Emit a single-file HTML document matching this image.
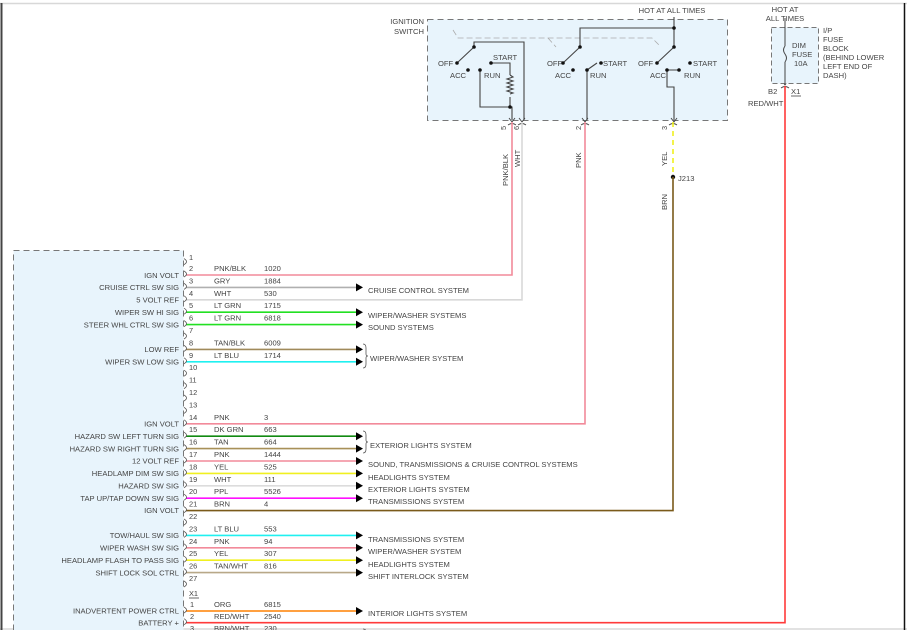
<!DOCTYPE html>
<html><head><meta charset="utf-8"><style>
html,body{margin:0;padding:0;background:#fff;}
svg{display:block;}
text{font-family:"Liberation Sans",sans-serif;font-size:7.6px;fill:#444;}
.n{font-size:7.4px;}
.w{fill:none;stroke-width:1.6;}
</style></head><body>
<svg width="907" height="630" viewBox="0 0 907 630" xmlns="http://www.w3.org/2000/svg">
<!-- frame -->
<line x1="0" y1="3.5" x2="907" y2="3.5" stroke="#d8d8d8" stroke-width="1.5"/>
<line x1="0" y1="629" x2="907" y2="629" stroke="#d8d8d8" stroke-width="1.5"/>
<line x1="1.5" y1="3" x2="1.5" y2="630" stroke="#444" stroke-width="2"/>
<line x1="904.5" y1="3" x2="904.5" y2="630" stroke="#111" stroke-width="1.5"/>

<!-- left connector box -->
<rect x="13.5" y="250.5" width="170" height="400" fill="#e8f4fc" stroke="#777" stroke-dasharray="6,4"/>

<!-- ignition switch box -->
<rect x="427.5" y="19.5" width="300" height="101" fill="#e8f4fc" stroke="#777" stroke-dasharray="6,4"/>
<text x="424" y="24" text-anchor="end">IGNITION</text>
<text x="424" y="34" text-anchor="end">SWITCH</text>
<text x="672" y="13" text-anchor="middle">HOT AT ALL TIMES</text>
<!-- gang dashed line -->
<path d="M453,30 L458,38 L652,38 L660,46 M548,38 L556,47" fill="none" stroke="#aaa" stroke-width="0.8" stroke-dasharray="6,3"/>
<g stroke="#444" stroke-width="1.1" fill="none">
<path d="M674,17 L674,47 M674,28 L580,28 L580,47"/>
<!-- switch 1 -->
<path d="M474,47 L457,63 M474,47 L474,42 L524,42 L524,120"/>
<path d="M491,63 L510,63 L510,75 M510,97 L510,107 L480,107 L480,70 M510,107 L512,107 L512,120"/>
<path d="M510,75 l3,2 l-6,2 l6,2 l-6,2 l6,2 l-6,2 l6,2 l-6,2 l6,2 l-3,1"/>
<!-- switch 2 -->
<path d="M580,47 L563,63 M587,70 L597,63 M587,70 L587,120"/>
<!-- switch 3 -->
<path d="M674,47 L657,63 M667,70 L679,70 M667,70 L667,87 L674,87 L674,120"/>
</g>
<g fill="#111">
<circle cx="674" cy="28" r="1.8"/><circle cx="674" cy="47" r="1.8"/><circle cx="580" cy="47" r="1.8"/><circle cx="474" cy="47" r="1.8"/>
<circle cx="457" cy="63" r="1.8"/><circle cx="468" cy="70" r="1.8"/><circle cx="480" cy="70" r="1.8"/><circle cx="491" cy="63" r="1.8"/><circle cx="510" cy="107" r="1.8"/>
<circle cx="563" cy="63" r="1.8"/><circle cx="573" cy="70" r="1.8"/><circle cx="587" cy="70" r="1.8"/><circle cx="601" cy="63" r="1.8"/>
<circle cx="657" cy="63" r="1.8"/><circle cx="667" cy="70" r="1.8"/><circle cx="679" cy="70" r="1.8"/><circle cx="690" cy="63" r="1.8"/>
<circle cx="673" cy="177" r="2.2"/><circle cx="785" cy="46" r="1.6"/><circle cx="785" cy="62" r="1.6"/>
</g>
<text x="438" y="66">OFF</text><text x="450" y="78">ACC</text><text x="484" y="78">RUN</text><text x="493" y="60">START</text>
<text x="547" y="66">OFF</text><text x="555" y="78">ACC</text><text x="590" y="78">RUN</text><text x="603" y="66">START</text>
<text x="638" y="66">OFF</text><text x="650" y="78">ACC</text><text x="684" y="78">RUN</text><text x="693" y="66">START</text>
<!-- connectors at switch bottom -->
<g stroke="#444" stroke-width="0.9" fill="none">
<path d="M509,118 l3,4 l3,-4 M519,118 l3,4 l3,-4 M582,118 l3,4 l3,-4 M671,118 l3,4 l3,-4 M782,81 l3,4 l3,-4"/>
<path d="M508,125 q4,-3 8,0 M518,125 q4,-3 8,0 M581,125 q4,-3 8,0 M669,125 q4,-3 8,0 M781,88 q4,-3 8,0"/>
</g>
<text class="n" transform="translate(506,130) rotate(-90)">5</text>
<text class="n" transform="translate(519,130) rotate(-90)">6</text>
<text class="n" transform="translate(581,130) rotate(-90)">2</text>
<text class="n" transform="translate(667,130) rotate(-90)">3</text>
<text transform="translate(508,186) rotate(-90)">PNK/BLK</text>
<text transform="translate(520,167) rotate(-90)">WHT</text>
<text transform="translate(581,168) rotate(-90)">PNK</text>
<text transform="translate(667,166) rotate(-90)">YEL</text>
<text transform="translate(667,210) rotate(-90)">BRN</text>
<text x="678" y="181">J213</text>

<!-- fuse block -->
<text x="785" y="12" text-anchor="middle">HOT AT</text>
<text x="785" y="21" text-anchor="middle">ALL TIMES</text>
<rect x="771.5" y="27.5" width="47" height="56" fill="#e8f4fc" stroke="#777" stroke-dasharray="5,3"/>
<path d="M785,18 L785,46 M785,62 L785,84 M785,46 q-3,4 0,8 q3,4 0,8" fill="none" stroke="#444" stroke-width="1"/>
<text x="792" y="48">DIM</text><text x="792" y="57">FUSE</text><text x="794" y="66">10A</text>
<text x="823" y="33">I/P</text><text x="823" y="42">FUSE</text><text x="823" y="51">BLOCK</text>
<text x="823" y="60">(BEHIND LOWER</text><text x="823" y="69">LEFT END OF</text><text x="823" y="78">DASH)</text>
<text x="768" y="94">B2</text><text x="791" y="94">X1</text>
<line x1="791" y1="96" x2="801" y2="96" stroke="#444" stroke-width="0.8"/>
<text x="748" y="106">RED/WHT</text>

<!-- vertical wire runs -->
<path class="w" stroke="#f28a9a" d="M512,122 L512,275 L186,275"/>
<path class="w" stroke="#d8d8d8" d="M522,122 L522,299.8 L186,299.8"/>
<path class="w" stroke="#f28a9a" d="M585,122 L585,423.8 L186,423.8"/>
<path class="w" stroke="#f0f020" stroke-dasharray="5,4" d="M673,122 L673,174"/>
<path class="w" stroke="#7a5a1a" d="M673,177 L673,510.6 L186,510.6"/>
<path class="w" stroke="#ff3a3a" d="M785,86 L785,622.7 L186,622.7"/>

<!-- arrow wires -->
<g class="w" fill="none">
<path stroke="#b0b0b0" d="M186,287.4 H356"/>
<path stroke="#22e022" d="M186,312.2 H356 M186,324.6 H356"/>
<path stroke="#a08a5a" d="M186,349.4 H356"/>
<path stroke="#20f0f0" d="M186,361.8 H356 M186,535.4 H356"/>
<path stroke="#128a12" d="M186,436.2 H356"/>
<path stroke="#a89058" d="M186,448.6 H356"/>
<path stroke="#f28a9a" d="M186,461 H356 M186,547.8 H356"/>
<path stroke="#f0f020" d="M186,473.4 H356 M186,560.2 H356"/>
<path stroke="#dcdcdc" d="M186,485.8 H356"/>
<path stroke="#ff10ff" d="M186,498.2 H356"/>
<path stroke="#b8a888" d="M186,572.6 H356"/>
<path stroke="#ff8000" d="M186,611 H356"/>
<path stroke="#c0a0a0" d="M186,634 H356"/>
</g>
<g fill="#000">
<path d="M356,283.4 L363,287.4 L356,291.4Z M356,308.2 L363,312.2 L356,316.2Z M356,320.6 L363,324.6 L356,328.6Z M356,345.4 L363,349.4 L356,353.4Z M356,357.8 L363,361.8 L356,365.8Z"/>
<path d="M356,432.2 L363,436.2 L356,440.2Z M356,444.6 L363,448.6 L356,452.6Z M356,457 L363,461 L356,465Z M356,469.4 L363,473.4 L356,477.4Z M356,481.8 L363,485.8 L356,489.8Z M356,494.2 L363,498.2 L356,502.2Z"/>
<path d="M356,531.4 L363,535.4 L356,539.4Z M356,543.8 L363,547.8 L356,551.8Z M356,556.2 L363,560.2 L356,564.2Z M356,568.6 L363,572.6 L356,576.6Z M356,607 L363,611 L356,615Z"/>
</g>
<!-- braces -->
<path d="M363,344 q3,0 3,4 l0,6 q0,2 2,2 q-2,0 -2,2 l0,6 q0,4 -3,4" fill="none" stroke="#555" stroke-width="0.8"/>
<path d="M363,431 q3,0 3,4 l0,5 q0,2 2,2 q-2,0 -2,2 l0,5 q0,4 -3,4" fill="none" stroke="#555" stroke-width="0.8"/>
<path d="M363,629 q3,0 3,3" fill="none" stroke="#555" stroke-width="0.8"/>

<text x="368" y="293">CRUISE CONTROL SYSTEM</text>
<text x="368" y="318">WIPER/WASHER SYSTEMS</text>
<text x="368" y="330">SOUND SYSTEMS</text>
<text x="370" y="361">WIPER/WASHER SYSTEM</text>
<text x="370" y="448">EXTERIOR LIGHTS SYSTEM</text>
<text x="368" y="467">SOUND, TRANSMISSIONS &amp; CRUISE CONTROL SYSTEMS</text>
<text x="368" y="480">HEADLIGHTS SYSTEM</text>
<text x="368" y="492">EXTERIOR LIGHTS SYSTEM</text>
<text x="368" y="504">TRANSMISSIONS SYSTEM</text>
<text x="368" y="542">TRANSMISSIONS SYSTEM</text>
<text x="368" y="554">WIPER/WASHER SYSTEM</text>
<text x="368" y="567">HEADLIGHTS SYSTEM</text>
<text x="368" y="579">SHIFT INTERLOCK SYSTEM</text>
<text x="368" y="616">INTERIOR LIGHTS SYSTEM</text>

<!-- pin connectors -->
<g stroke="#555" stroke-width="0.8" fill="none">
<path d="M184,258.6 q5,3 0,6 M184,271 q5,3 0,6 M184,283.4 q5,3 0,6 M184,295.8 q5,3 0,6 M184,308.2 q5,3 0,6 M184,320.6 q5,3 0,6 M184,333 q5,3 0,6 M184,345.4 q5,3 0,6 M184,357.8 q5,3 0,6 M184,370.2 q5,3 0,6 M184,382.6 q5,3 0,6 M184,395 q5,3 0,6 M184,407.4 q5,3 0,6"/>
<path d="M184,419.8 q5,3 0,6 M184,432.2 q5,3 0,6 M184,444.6 q5,3 0,6 M184,457 q5,3 0,6 M184,469.4 q5,3 0,6 M184,481.8 q5,3 0,6 M184,494.2 q5,3 0,6 M184,506.6 q5,3 0,6 M184,519 q5,3 0,6 M184,531.4 q5,3 0,6 M184,543.8 q5,3 0,6 M184,556.2 q5,3 0,6 M184,568.6 q5,3 0,6 M184,581 q5,3 0,6 M184,607 q5,3 0,6 M184,618.7 q5,3 0,6"/>
</g>

<!-- pin numbers -->
<g class="n">
<text class="n" x="189" y="260">1</text><text class="n" x="189" y="271">2</text><text class="n" x="189" y="283.4">3</text><text class="n" x="189" y="295.8">4</text>
<text class="n" x="189" y="308.2">5</text><text class="n" x="189" y="320.6">6</text><text class="n" x="189" y="333">7</text><text class="n" x="189" y="345.4">8</text>
<text class="n" x="189" y="357.8">9</text><text class="n" x="189" y="370.2">10</text><text class="n" x="189" y="382.6">11</text><text class="n" x="189" y="395">12</text>
<text class="n" x="189" y="407.4">13</text><text class="n" x="189" y="419.8">14</text><text class="n" x="189" y="432.2">15</text><text class="n" x="189" y="444.6">16</text>
<text class="n" x="189" y="457">17</text><text class="n" x="189" y="469.4">18</text><text class="n" x="189" y="481.8">19</text><text class="n" x="189" y="494.2">20</text>
<text class="n" x="189" y="506.6">21</text><text class="n" x="189" y="519">22</text><text class="n" x="189" y="531.4">23</text><text class="n" x="189" y="543.8">24</text>
<text class="n" x="189" y="556.2">25</text><text class="n" x="189" y="568.6">26</text><text class="n" x="189" y="581">27</text>
<text class="n" x="189" y="596">X1</text><text class="n" x="190" y="607">1</text><text class="n" x="190" y="619">2</text><text class="n" x="190" y="631">3</text>
</g>
<line x1="189" y1="598" x2="199" y2="598" stroke="#444" stroke-width="0.8"/>

<!-- wire color / circuit numbers -->
<text x="214" y="271">PNK/BLK</text><text x="264" y="271">1020</text>
<text x="214" y="283.4">GRY</text><text x="264" y="283.4">1884</text>
<text x="214" y="295.8">WHT</text><text x="264" y="295.8">530</text>
<text x="214" y="308.2">LT GRN</text><text x="264" y="308.2">1715</text>
<text x="214" y="320.6">LT GRN</text><text x="264" y="320.6">6818</text>
<text x="214" y="345.4">TAN/BLK</text><text x="264" y="345.4">6009</text>
<text x="214" y="357.8">LT BLU</text><text x="264" y="357.8">1714</text>
<text x="214" y="419.8">PNK</text><text x="264" y="419.8">3</text>
<text x="214" y="432.2">DK GRN</text><text x="264" y="432.2">663</text>
<text x="214" y="444.6">TAN</text><text x="264" y="444.6">664</text>
<text x="214" y="457">PNK</text><text x="264" y="457">1444</text>
<text x="214" y="469.4">YEL</text><text x="264" y="469.4">525</text>
<text x="214" y="481.8">WHT</text><text x="264" y="481.8">111</text>
<text x="214" y="494.2">PPL</text><text x="264" y="494.2">5526</text>
<text x="214" y="506.6">BRN</text><text x="264" y="506.6">4</text>
<text x="214" y="531.4">LT BLU</text><text x="264" y="531.4">553</text>
<text x="214" y="543.8">PNK</text><text x="264" y="543.8">94</text>
<text x="214" y="556.2">YEL</text><text x="264" y="556.2">307</text>
<text x="214" y="568.6">TAN/WHT</text><text x="264" y="568.6">816</text>
<text x="214" y="607">ORG</text><text x="264" y="607">6815</text>
<text x="214" y="619">RED/WHT</text><text x="264" y="619">2540</text>
<text x="214" y="631">BRN/WHT</text><text x="264" y="631">230</text>

<!-- left labels -->
<g text-anchor="end">
<text x="179" y="278">IGN VOLT</text>
<text x="179" y="290">CRUISE CTRL SW SIG</text>
<text x="179" y="302.5">5 VOLT REF</text>
<text x="179" y="315">WIPER SW HI SIG</text>
<text x="179" y="327.5">STEER WHL CTRL SW SIG</text>
<text x="179" y="352">LOW REF</text>
<text x="179" y="364.5">WIPER SW LOW SIG</text>
<text x="179" y="426.5">IGN VOLT</text>
<text x="179" y="439">HAZARD SW LEFT TURN SIG</text>
<text x="179" y="451.5">HAZARD SW RIGHT TURN SIG</text>
<text x="179" y="463.5">12 VOLT REF</text>
<text x="179" y="476">HEADLAMP DIM SW SIG</text>
<text x="179" y="488.5">HAZARD SW SIG</text>
<text x="179" y="501">TAP UP/TAP DOWN SW SIG</text>
<text x="179" y="513">IGN VOLT</text>
<text x="179" y="538">TOW/HAUL SW SIG</text>
<text x="179" y="550.5">WIPER WASH SW SIG</text>
<text x="179" y="563">HEADLAMP FLASH TO PASS SIG</text>
<text x="179" y="575.5">SHIFT LOCK SOL CTRL</text>
<text x="179" y="613.5">INADVERTENT POWER CTRL</text>
<text x="179" y="625.5">BATTERY +</text>
</g>
</svg>
</body></html>
